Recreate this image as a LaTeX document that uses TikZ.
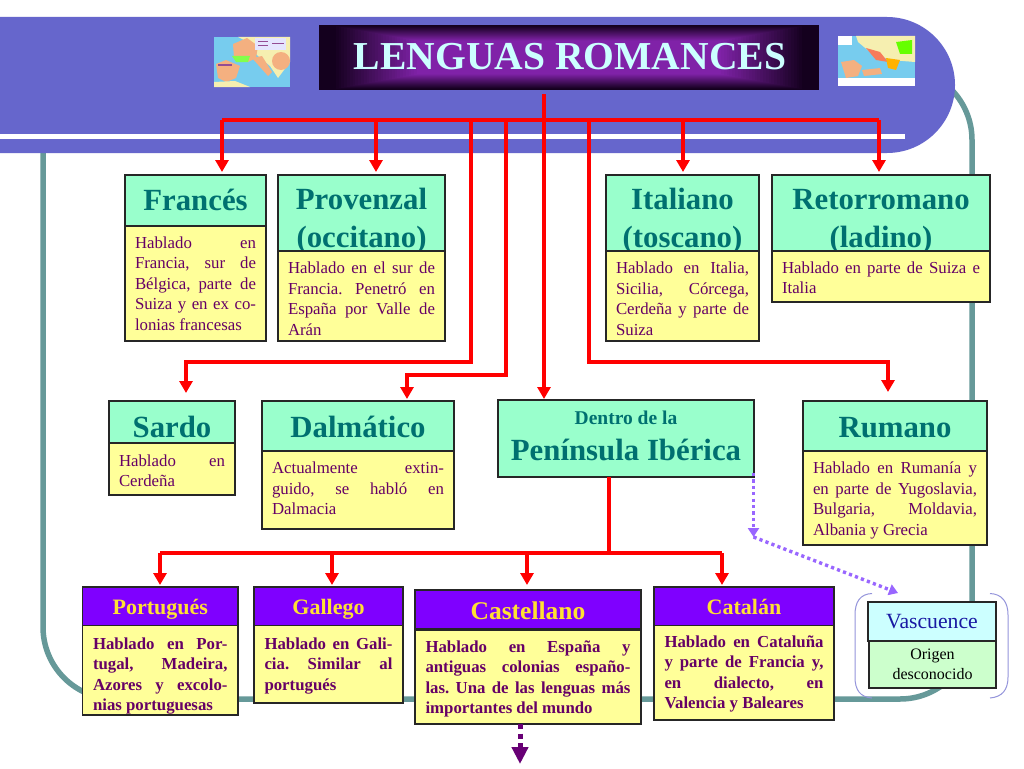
\documentclass[tikz,border=0pt]{standalone}
\usepackage{fontspec}
\setmainfont{Liberation Serif}
\usetikzlibrary{arrows.meta}
\definecolor{band}{HTML}{6666CC}
\definecolor{frameteal}{HTML}{669999}
\definecolor{mint}{HTML}{99FFCC}
\definecolor{pale}{HTML}{FFFF99}
\definecolor{violet2}{HTML}{7F00FF}
\definecolor{gold}{HTML}{FFE033}
\definecolor{plum}{HTML}{660066}
\definecolor{tealtxt}{HTML}{007070}
\definecolor{lilac}{HTML}{9966FF}
\definecolor{titlecol}{HTML}{CCFFFF}
\definecolor{sea}{HTML}{77CCEE}
\definecolor{land}{HTML}{F4B080}
\definecolor{landy}{HTML}{F6EFB0}
\definecolor{titledark}{HTML}{14001E}
\definecolor{titlemid}{HTML}{8022A8}
\tikzset{
  x=1pt,y=-1pt,
  boxbase/.style={draw=black!85,line width=1.1pt,anchor=north west,inner sep=0pt,outer sep=0pt,align=center},
  mainhead/.style={boxbase,fill=mint,text=tealtxt,font=\fontsize{30.8}{38}\selectfont\bfseries},
  mainbody/.style={boxbase,fill=pale,text=plum,font=\fontsize{16.8}{20.5}\selectfont},
  subhead/.style={boxbase,fill=violet2,text=gold,font=\fontsize{22}{26}\selectfont\bfseries},
  subbody/.style={boxbase,fill=pale,text=plum,font=\fontsize{16.8}{20.5}\selectfont\bfseries},
  redline/.style={draw=red,line width=4pt,line cap=butt,line join=miter},
  redarrow/.style={redline,-{Triangle[width=13pt,length=12pt]}},
  lilacdots/.style={draw=lilac,line width=3.4pt,dash pattern=on 3.2pt off 3.2pt,-{Triangle[width=11pt,length=9pt,color=lilac]}},
  bracketline/.style={draw=band!70!white,line width=1pt},
}
\newcommand{\nl}{\linebreak}
\newcommand{\hd}[2]{\raisebox{#1}[0pt][0pt]{\begin{tabular}{@{}c@{}}#2\end{tabular}}}
\newcommand{\bd}[3]{\raisebox{#1}[0pt][0pt]{\begin{minipage}{#2}\hyphenpenalty=10000 \tolerance=9999 \hbadness=10000 \hfuzz=3pt \frenchspacing #3\end{minipage}}}
\begin{document}
\begin{tikzpicture}
\useasboundingbox (0,0) rectangle (1024,768);
\fill[white] (0,0) rectangle (1024,768);

% frame and header band
\draw[frameteal,line width=5.5pt,rounded corners=72pt] (43,68) rectangle (972,699);
\fill[band] (0,17) -- (887,17) arc[start angle=90,end angle=-90,radius=68pt] -- (0,153) -- cycle;
\fill[white] (0,134) rectangle (905,138.5);

% title box
\fill[titledark] (319,25) rectangle (819,90);
\foreach \i in {0,...,30}{
  \pgfmathsetmacro{\mix}{\i*100/30}
  \pgfmathsetmacro{\a}{14+\i*2.8}
  \pgfmathsetmacro{\b}{1+\i*0.5}
  \colorlet{cc}{titlemid!\mix!titledark}
  \fill[cc] (319+\a,25+\b) rectangle (819-\a,90-\b);
}
\node[text=titlecol,inner sep=0pt,font=\fontsize{39.6}{44}\selectfont\bfseries] (title) at (570,57) {LENGUAS ROMANCES};

% left map
\fill[sea] (214,37) rectangle (290,87);
\fill[landy] (238,37) -- (290,37) -- (290,62) -- (278,78) -- (270,66) -- (258,56) -- (244,40) -- cycle;
\fill[land] (233,44) -- (247,38) -- (258,46) -- (256,58) -- (248,62) -- (234,58) -- cycle;
\fill[land] (216,64) -- (226,60) -- (240,66) -- (236,78) -- (226,82) -- (218,78) -- cycle;
\fill[land] (252,58) -- (262,56) -- (272,72) -- (268,76) -- cycle;
\fill[land] (281,61) circle[radius=9pt];
\fill[green!70!yellow!70!white] (232,56) -- (250,56) -- (248,62) -- (236,62) -- cycle;
\fill[white!90!blue] (255,38) rectangle (286,50);
\fill[landy] (214,82) -- (235,81) -- (250,87) -- (214,87) -- cycle;
\fill[plum!70!white] (218,64) rectangle (232,65.5);
\fill[plum!70!white] (258,41) rectangle (268,42);
\fill[plum!70!white] (258,45) rectangle (268,46);
\fill[plum!70!white] (272,43) rectangle (284,44);

% right map
\fill[sea] (838,36) rectangle (915,86);
\fill[landy] (856,36) -- (915,36) -- (915,62) -- (890,60) -- (870,52) -- (858,42) -- cycle;
\fill[land] (841,62) -- (854,60) -- (862,66) -- (858,76) -- (846,78) -- cycle;
\fill[green!60!yellow] (896,42) -- (912,40) -- (912,54) -- (900,54) -- cycle;
\fill[red!30!land] (866,48) -- (880,52) -- (888,62) -- (876,60) -- cycle;
\fill[orange!60!yellow] (886,58) -- (900,60) -- (896,70) -- (888,68) -- cycle;
\fill[land] (862,70) -- (880,68) -- (882,74) -- (864,76) -- cycle;
\fill[white] (838,78) rectangle (915,86);
\fill[white] (838,36) rectangle (852,45);

% upper language boxes
\node[mainhead,minimum width=141pt,minimum height=51pt] (frances) at (125,175) {\hd{-8.5pt}{Francés}};
\node[mainbody,minimum width=141pt,minimum height=115pt] (francesb) at (125,226)
  {\bd{-4.2pt}{121pt}{Hablado en\nl Francia, sur de\nl Bélgica, parte de\nl Suiza y en ex co-\nl lonias francesas}};
\node[mainhead,minimum width=167pt,minimum height=76pt] (provenzal) at (278,175) {\hd{-14pt}{Provenzal\\(occitano)}};
\node[mainbody,minimum width=167pt,minimum height=90pt] (provenzalb) at (278,251)
  {\bd{-7pt}{147pt}{Hablado en el sur de\nl Francia. Penetró en\nl España por Valle de\nl Arán}};
\node[mainhead,minimum width=153pt,minimum height=76pt] (italiano) at (606,175) {\hd{-14pt}{Italiano\\(toscano)}};
\node[mainbody,minimum width=153pt,minimum height=90pt] (italianob) at (606,251)
  {\bd{-7pt}{133pt}{Hablado en Italia,\nl Sicilia, Córcega,\nl Cerdeña y parte de\nl Suiza}};
\node[mainhead,minimum width=218pt,minimum height=76pt] (retorromano) at (772,175) {\hd{-14pt}{Retorromano\\(ladino)}};
\node[mainbody,minimum width=218pt,minimum height=51pt] (retorromanob) at (772,251)
  {\bd{-5.7pt}{198pt}{Hablado en parte de Suiza e\nl Italia}};

% middle language boxes
\node[mainhead,minimum width=126pt,minimum height=42pt] (sardo) at (109,401) {\hd{-14pt}{Sardo}};
\node[mainbody,minimum width=126pt,minimum height=52pt] (sardob) at (109,443)
  {\bd{-6pt}{106pt}{Hablado en\nl Cerdeña}};
\node[mainhead,minimum width=192pt,minimum height=50pt] (dalmatico) at (262,401) {\hd{-10pt}{Dalmático}};
\node[mainbody,minimum width=192pt,minimum height=78pt] (dalmaticob) at (262,451)
  {\bd{-3pt}{172pt}{Actualmente extin-\nl guido, se habló en\nl Dalmacia}};
\node[mainhead,minimum width=256pt,minimum height=77pt] (iberica) at (498,400)
  {\hd{-2.5pt}{{\fontsize{19.5}{24}\selectfont Dentro de la}\\[-2pt]Península Ibérica}};
\node[mainhead,minimum width=184pt,minimum height=50pt] (rumano) at (803,401) {\hd{-10pt}{Rumano}};
\node[mainbody,minimum width=184pt,minimum height=94pt] (rumanob) at (803,451)
  {\bd{-7pt}{164pt}{Hablado en Rumanía y\nl en parte de Yugoslavia,\nl Bulgaria, Moldavia,\nl Albania y Grecia}};

% lower language boxes
\node[subhead,minimum width=155.5pt,minimum height=38.5pt] (portugues) at (82.5,587) {\hd{-8.5pt}{Portugués}};
\node[subbody,minimum width=155.5pt,minimum height=89.5pt] (portuguesb) at (82.5,625.5)
  {\bd{-10pt}{134.5pt}{Hablado en Por-\nl tugal, Madeira,\nl Azores y excolo-\nl nias portuguesas}};
\node[subhead,minimum width=149pt,minimum height=38.5pt] (gallego) at (254,587) {\hd{-8.5pt}{Gallego}};
\node[subbody,minimum width=149pt,minimum height=77.5pt] (gallegob) at (254,625.5)
  {\bd{-6pt}{128pt}{Hablado en Gali-\nl cia. Similar al\nl portugués}};
\node[subhead,minimum width=226pt,minimum height=39pt,font=\fontsize{25.5}{30}\selectfont\bfseries] (castellano) at (415,590) {\hd{-10.5pt}{Castellano}};
\node[subbody,minimum width=226pt,minimum height=94pt] (castellanob) at (415,630)
  {\bd{-6pt}{205pt}{Hablado en España y\nl antiguas colonias españo-\nl las. Una de las lenguas más\nl importantes del mundo}};
\node[subhead,minimum width=180pt,minimum height=38.5pt] (catalan) at (654,587) {\hd{-8.5pt}{Catalán}};
\node[subbody,minimum width=180pt,minimum height=94.5pt] (catalanb) at (654,625.5)
  {\bd{-5.7pt}{159pt}{Hablado en Cataluña\nl y parte de Francia y,\nl en dialecto, en\nl Valencia y Baleares}};

% Vascuence
\node[boxbase,fill=titlecol,text=blue!60!black!90!white,minimum width=128pt,minimum height=39pt,font=\fontsize{21.7}{26}\selectfont] (vascuence) at (868,602) {Vascuence};
\node[boxbase,fill=green!20!white,text=black,minimum width=127pt,minimum height=47pt,font=\fontsize{16}{20.5}\selectfont] (origen) at (869,641) {Origen\\desconocido};
\draw[bracketline] (872,593.5) .. controls (860,594) and (855,602) .. (855,615) -- (855,677) .. controls (855,690) and (860,697) .. (872,698);
\draw[bracketline] (990,593.5) .. controls (1002,594) and (1008,602) .. (1008,615) -- (1008,677) .. controls (1008,690) and (1002,697) .. (990,698);

% connectors
\coordinate (root) at (544,94);
\coordinate (bus) at (544,120);
\coordinate (busA) at (222,120);
\coordinate (busB) at (376,120);
\coordinate (busC) at (683,120);
\coordinate (busD) at (879,120);
\coordinate (dropS) at (471,120);
\coordinate (dropD) at (506,120);
\coordinate (dropR) at (589,120);
\coordinate (turnS) at (186,362);
\coordinate (turnD) at (407,375);
\coordinate (turnR) at (888,362);
\draw[redline] (busA) -- (busD);
\draw[redarrow,shorten >=3pt] (busA) -- (busA |- frances.north);
\draw[redarrow,shorten >=3pt] (busB) -- (busB |- provenzal.north);
\draw[redarrow,shorten >=3pt] (busC) -- (busC |- italiano.north);
\draw[redarrow,shorten >=3pt] (busD) -- (busD |- retorromano.north);
\draw[redarrow,shorten >=1pt] (root) -- (root |- iberica.north);
\draw[redarrow,shorten >=8pt] (dropS) |- (turnS) -- (turnS |- sardo.north);
\draw[redarrow,shorten >=2pt] (dropD) |- (turnD) -- (turnD |- dalmatico.north);
\draw[redarrow,shorten >=9pt] (dropR) |- (turnR) -- (turnR |- rumano.north);

\coordinate (ibdrop) at (609,477);
\coordinate (bus2) at (609,553);
\coordinate (bus2A) at (160,553);
\coordinate (bus2B) at (332,553);
\coordinate (bus2C) at (527,553);
\coordinate (bus2D) at (722,553);
\draw[redline] (bus2A) -- (bus2D);
\draw[redline] (ibdrop) -- (bus2);
\draw[redarrow,shorten >=2pt] (bus2A) -- (bus2A |- portugues.north);
\draw[redarrow,shorten >=2pt] (bus2B) -- (bus2B |- gallego.north);
\draw[redarrow,shorten >=5pt] (bus2C) -- (bus2C |- castellano.north);
\draw[redarrow,shorten >=2pt] (bus2D) -- (bus2D |- catalan.north);

\coordinate (dotstart) at (753.5,473);
\coordinate (dotbend) at (753.5,537);
\coordinate (dotend) at (898,593);
\draw[lilacdots] (dotstart) -- (dotbend);
\draw[lilacdots] (dotbend) -- (dotend);

\coordinate (cont) at (520,764);
\draw[draw=plum!90!violet2,line width=5pt,dash pattern=on 5pt off 4.5pt,-{Triangle[width=16pt,length=17pt,color=plum!90!violet2]}] (castellanob.south -| cont) -- (cont);
\end{tikzpicture}
\end{document}
